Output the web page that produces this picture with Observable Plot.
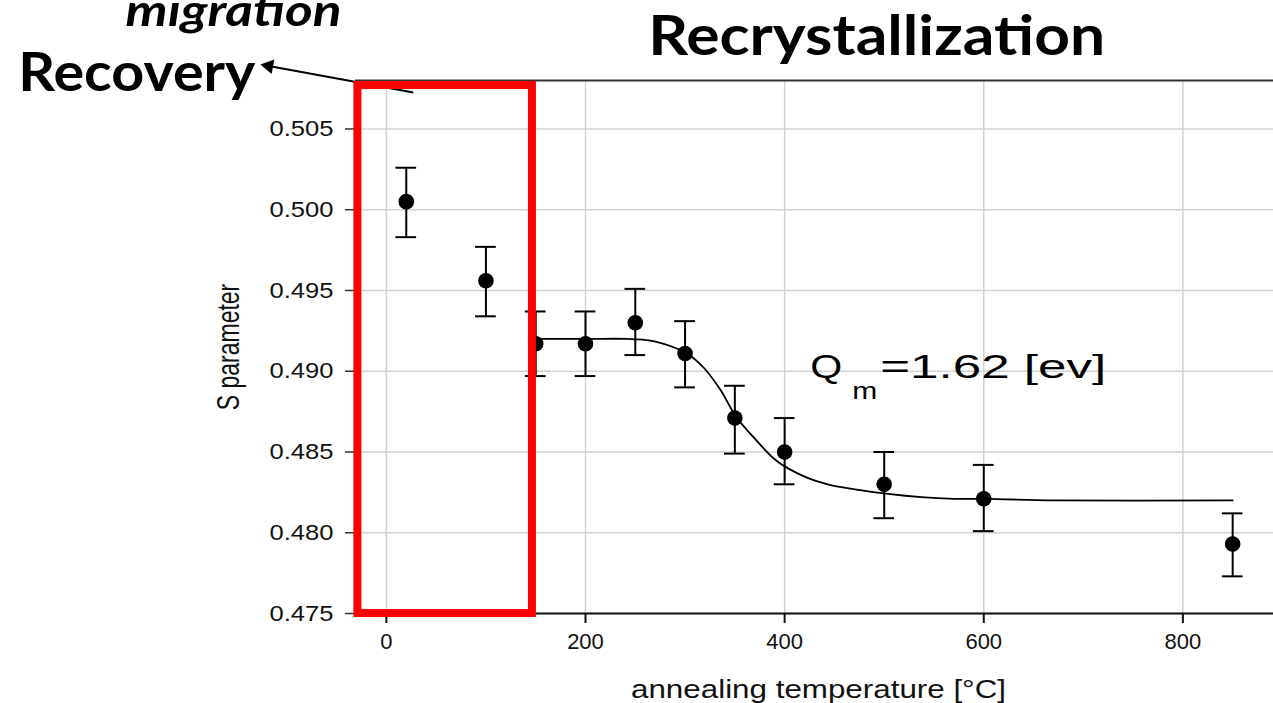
<!DOCTYPE html>
<html>
<head>
<meta charset="utf-8">
<script src="https://cdn.jsdelivr.net/npm/d3@7"></script>
<script src="https://cdn.jsdelivr.net/npm/@observablehq/plot@0.6"></script>
<style>
  html, body { margin: 0; padding: 0; background: #ffffff; }
  #chart { width: 1273px; height: 703px; overflow: hidden; }
</style>
</head>
<body>
<div id="chart"></div>
<script>
// ---- data ----
const temps   = [20, 100, 150, 200, 250, 300, 350, 400, 500, 600, 850];
const sValues = [0.5005, 0.4956, 0.4917, 0.4917, 0.4930, 0.4911, 0.4871, 0.4850, 0.4830, 0.4821, 0.4793];
const sLow    = [0.4983, 0.4934, 0.4897, 0.4897, 0.4910, 0.4890, 0.4849, 0.4830, 0.4809, 0.4801, 0.4773];
const sHigh   = [0.5026, 0.4977, 0.4937, 0.4937, 0.4951, 0.4931, 0.4891, 0.4871, 0.4850, 0.4842, 0.4812];

// fitted curve
const fitTemps  = [150, 200, 242, 265, 288, 302, 319, 336, 351, 369, 389, 403, 423, 443, 469, 504, 537, 570, 604, 670, 850];
const fitValues = [0.4920, 0.4920, 0.4920, 0.4919, 0.4915, 0.4911, 0.4902, 0.4888, 0.4872, 0.4859, 0.4846, 0.4840, 0.4834, 0.4830, 0.4827, 0.4824, 0.4822, 0.4821, 0.4821, 0.4820, 0.4820];

const xTicks = [0, 200, 400, 600, 800];
const yTicks = [0.475, 0.480, 0.485, 0.490, 0.495, 0.500, 0.505];

const xLabel = "annealing temperature [°C]";
const yLabel = "S parameter";
const fitLabel = ["Q", "m", "=1.62 [ev]"];
const titles = ["Recrystallization", "Recovery", "migration"];

// ---- tables built from the arrays ----
const points = temps.map((t, i) => ({x: t, s: sValues[i], lo: sLow[i], hi: sHigh[i]}));
const fit = fitTemps.map((t, i) => ({x: t, s: fitValues[i]}));

// annotation placement (in data coordinates)
const titleAnn = [
  {text: titles[0], x: 263,    y: 0.50955, size: 56, italic: false, w: 457},
  {text: titles[1], x: -369.6, y: 0.50738, size: 54, italic: false, w: 237},
  {text: titles[2], x: -262,   y: 0.51140, size: 44, italic: true,  w: 216}
];
const qAnn = [
  {text: fitLabel[0], x: 425.8, y: 0.48955, size: 34, w: 32},
  {text: fitLabel[1], x: 468,   y: 0.48831, size: 23, w: 25},
  {text: fitLabel[2], x: 496,   y: 0.48955, size: 34, w: 226}
];
const arrowAnn = [{x1: 27.1, y1: 0.50726, x2: -118.1, y2: 0.50890}];
const boxAnn = [{x1: -28.6, x2: 146.7, y1: 0.475, y2: 0.50769}];
const capHalf = 10.4;

const chart = Plot.plot({
  width: 1273,
  height: 703,
  marginLeft: 355,
  marginRight: 0,
  marginTop: 80,
  marginBottom: 90,
  style: {fontFamily: "'Liberation Sans', Arial, sans-serif", fontSize: "22px", background: "#ffffff", color: "#111"},
  x: {domain: [-31, 891]},
  y: {domain: [0.475, 0.508]},
  marks: [
    Plot.gridX(xTicks, {stroke: "#d2d2d2", strokeOpacity: 1, strokeWidth: 1.5}),
    Plot.gridY(yTicks, {stroke: "#d2d2d2", strokeOpacity: 1, strokeWidth: 1.5}),
    Plot.ruleY([0.508], {stroke: "#333", strokeWidth: 2}),
    Plot.ruleY([0.475], {stroke: "#111", strokeWidth: 2}),
    Plot.axisX(xTicks, {tickSize: 10, tickPadding: 10, fontSize: 22, label: null, stroke: "#111", strokeWidth: 2}),
    Plot.axisY(yTicks, {tickSize: 10, tickPadding: 12, fontSize: 22, tickFormat: d3.format(".3f"), label: null, stroke: "#333", strokeWidth: 1.5}),
    Plot.line(fit, {x: "x", y: "s", curve: "catmull-rom", stroke: "#000", strokeWidth: 1.8}),
    Plot.ruleX(points, {x: "x", y1: "lo", y2: "hi", stroke: "#000", strokeWidth: 2}),
    Plot.ruleY(points, {y: "lo", x1: d => d.x - capHalf, x2: d => d.x + capHalf, stroke: "#000", strokeWidth: 2}),
    Plot.ruleY(points, {y: "hi", x1: d => d.x - capHalf, x2: d => d.x + capHalf, stroke: "#000", strokeWidth: 2}),
    Plot.dot(points, {x: "x", y: "s", r: 7.8, fill: "#000", stroke: "none"}),
    Plot.link(arrowAnn, {x1: "x1", y1: "y1", x2: "x2", y2: "y2", stroke: "#000", strokeWidth: 2}),
    Plot.dot(arrowAnn, {x: "x2", y: "y2", symbol: "triangle", r: 5.5, fill: "#000", stroke: "none", rotate: -79.6}),
    Plot.rect(boxAnn, {x1: "x1", x2: "x2", y1: "y1", y2: "y2", fill: "none", stroke: "#ff0000", strokeWidth: 8}),
    Plot.text(qAnn, {x: "x", y: "y", text: "text", fontSize: d => d.size, textAnchor: "start", lineAnchor: "bottom", fill: "#000"}),
    Plot.text(titleAnn.filter(d => !d.italic), {x: "x", y: "y", text: "text", fontSize: d => d.size, textAnchor: "start", lineAnchor: "bottom", fontFamily: "Lato, 'Open Sans', sans-serif", fontWeight: "bold", fill: "#000"}),
    Plot.text(titleAnn.filter(d => d.italic), {x: "x", y: "y", text: "text", fontSize: d => d.size, textAnchor: "start", lineAnchor: "bottom", fontFamily: "Lato, 'Open Sans', sans-serif", fontWeight: "bold", fontStyle: "italic", fill: "#000"}),
    Plot.text([yLabel], {text: d => d, frameAnchor: "left", textAnchor: "middle", lineAnchor: "middle", dx: -126, rotate: -90, fontSize: 23, fill: "#111"}),
    Plot.text([xLabel], {text: d => d, frameAnchor: "bottom", textAnchor: "middle", dx: 4, dy: 84, lineAnchor: "bottom", fontSize: 25, fill: "#111"})
  ]
});

document.getElementById("chart").appendChild(chart);

// stretch texts horizontally as in the reference image
const widths = new Map();
titleAnn.forEach(d => widths.set(d.text, d.w));
qAnn.forEach(d => widths.set(d.text, d.w));
widths.set(xLabel, 375);
const xTickText = new Set(xTicks.map(String));
chart.querySelectorAll("text").forEach(t => {
  const s = t.textContent;
  if (widths.has(s)) {
    t.setAttribute("textLength", widths.get(s));
    t.setAttribute("lengthAdjust", "spacingAndGlyphs");
  } else if (/^0\.\d{3}$/.test(s)) {
    t.setAttribute("font-size", 22);
    t.setAttribute("textLength", 64);
    t.setAttribute("lengthAdjust", "spacingAndGlyphs");
  } else if (xTickText.has(s)) {
    t.setAttribute("font-size", 22);
  } else if (s === yLabel) {
    const tr = t.getAttribute("transform") || "";
    t.setAttribute("transform", tr + " scale(1,1.35)");
  }
});
</script>
</body>
</html>
